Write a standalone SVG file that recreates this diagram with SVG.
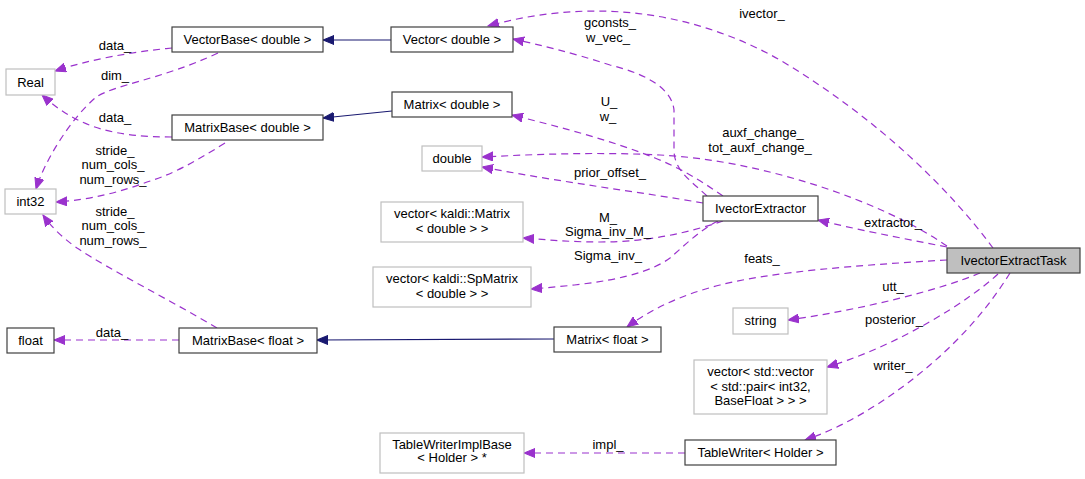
<svg xmlns="http://www.w3.org/2000/svg" width="1085" height="479" viewBox="0 0 1085 479">
<style>
text{font-family:"Liberation Sans",Arial,sans-serif;font-size:13px;fill:#000;text-anchor:middle}
.doc{fill:#fff;stroke:#404040;stroke-width:1.2}
.und{fill:#fff;stroke:#bfbfbf;stroke-width:1.2}
.cur{fill:#bfbfbf;stroke:#404040;stroke-width:1.2}
.inh{fill:none;stroke:#191970;stroke-width:1.2}
.use{fill:none;stroke:#9a32cd;stroke-width:1.2;stroke-dasharray:7,5}
</style>
<defs>
<marker id="ab" markerUnits="userSpaceOnUse" markerWidth="12" markerHeight="10" refX="11" refY="5" orient="auto"><path d="M0,0.5 L11,5 L0,9.5 Z" fill="#191970" stroke="#191970"/></marker>
<marker id="ap" markerUnits="userSpaceOnUse" markerWidth="12" markerHeight="10" refX="11" refY="5" orient="auto"><path d="M0,0.5 L11,5 L0,9.5 Z" fill="#9a32cd" stroke="#9a32cd"/></marker>
</defs>
<g id="connectors">
<path class="inh" d="M391,40 L323,40" marker-end="url(#ab)"/>
<path class="inh" d="M392,111 L323,118" marker-end="url(#ab)"/>
<path class="inh" d="M554,339 L317,340" marker-end="url(#ab)"/>
<path class="use" d="M172,48 C130,52 88,60 55,71" marker-end="url(#ap)"/>
<text x="115" y="50">data_</text>
<path class="use" d="M218,53 C160,80 112,85 95,98 C70,120 45,160 36,189" marker-end="url(#ap)"/>
<text x="115" y="80">dim_</text>
<path class="use" d="M172,137 C115,137 78,128 42,95" marker-end="url(#ap)"/>
<text x="115" y="122">data_</text>
<path class="use" d="M225,143 C190,165 170,175 147,182 C120,192 90,200 56,202" marker-end="url(#ap)"/>
<text x="115" y="155">stride_</text><text x="113" y="169">num_cols_</text><text x="113" y="184">num_rows_</text>
<path class="use" d="M217,328 C170,300 110,270 77,248 C60,236 50,225 43,215" marker-end="url(#ap)"/>
<text x="115" y="216">stride_</text><text x="113" y="230">num_cols_</text><text x="113" y="245">num_rows_</text>
<path class="use" d="M179,340 L54,340" marker-end="url(#ap)"/>
<text x="112" y="337">data_</text>
<path class="use" d="M993,248 C950,190 880,120 780,60 C700,15 600,-5 488,26" marker-end="url(#ap)"/>
<text x="762" y="18">ivector_</text>
<path class="use" d="M707,196 C690,180 674,170 674,150 L674,110 C672,90 650,75 610,65 C570,52 540,45 513,39" marker-end="url(#ap)"/>
<text x="610" y="27">gconsts_</text><text x="608" y="42">w_vec_</text>
<path class="use" d="M723,196 C700,180 680,168 655,158 C610,140 560,127 512,115" marker-end="url(#ap)"/>
<text x="609" y="106">U_</text><text x="608" y="121">w_</text>
<path class="use" d="M947,246 C880,200 760,160 660,155 C600,152 540,154 482,157" marker-end="url(#ap)"/>
<text x="763" y="137">auxf_change_</text><text x="760" y="152">tot_auxf_change_</text>
<path class="use" d="M703,203 C640,192 560,182 482,167" marker-end="url(#ap)"/>
<text x="610" y="177">prior_offset_</text>
<path class="use" d="M723,221 C690,232 650,242 600,242 C570,242 550,240 523,238" marker-end="url(#ap)"/>
<text x="608" y="222">M_</text><text x="608" y="236">Sigma_inv_M_</text>
<path class="use" d="M718,221 C700,230 685,245 670,258 C640,280 580,285 531,289" marker-end="url(#ap)"/>
<text x="608" y="260">Sigma_inv_</text>
<path class="use" d="M947,247 C900,238 850,228 818,220" marker-end="url(#ap)"/>
<text x="893" y="227">extractor_</text>
<path class="use" d="M947,260 C860,265 770,272 720,285 C680,295 650,310 627,327" marker-end="url(#ap)"/>
<text x="762" y="263">feats_</text>
<path class="use" d="M980,273 C940,290 860,310 788,320" marker-end="url(#ap)"/>
<text x="893" y="291">utt_</text>
<path class="use" d="M998,274 C970,300 900,345 827,367" marker-end="url(#ap)"/>
<text x="894" y="324">posterior_</text>
<path class="use" d="M1010,273 C990,305 965,335 930,365 C895,395 850,425 805,440" marker-end="url(#ap)"/>
<text x="893" y="370">writer_</text>
<path class="use" d="M685,453 L524,453" marker-end="url(#ap)"/>
<text x="608" y="449">impl_</text>
</g>
<g id="IvectorExtractTask"><rect class="cur" x="947" y="248" width="133" height="25"/><text x="1013.5" y="265">IvectorExtractTask</text></g>
<g id="IvectorExtractor"><rect class="doc" x="703" y="196" width="115" height="25"/><text x="760.5" y="213">IvectorExtractor</text></g>
<g id="VectorBaseDouble"><rect class="doc" x="172" y="27" width="151" height="25"/><text x="247.5" y="44">VectorBase&lt; double &gt;</text></g>
<g id="VectorDouble"><rect class="doc" x="391" y="27" width="122" height="25"/><text x="452" y="44">Vector&lt; double &gt;</text></g>
<g id="Real"><rect class="und" x="6" y="69" width="49" height="26"/><text x="30.5" y="86.5">Real</text></g>
<g id="MatrixBaseDouble"><rect class="doc" x="172" y="115" width="151" height="25"/><text x="247.5" y="132">MatrixBase&lt; double &gt;</text></g>
<g id="MatrixDouble"><rect class="doc" x="392" y="92" width="120" height="25"/><text x="452" y="109">Matrix&lt; double &gt;</text></g>
<g id="double"><rect class="und" x="422" y="146" width="60" height="25"/><text x="452" y="163">double</text></g>
<g id="int32"><rect class="und" x="5" y="189" width="51" height="25"/><text x="30.5" y="206">int32</text></g>
<g id="vectorKaldiMatrix"><rect class="und" x="381" y="202" width="142" height="40"/><text x="452" y="218">vector&lt; kaldi::Matrix</text><text x="452" y="233">&lt; double &gt; &gt;</text></g>
<g id="vectorKaldiSpMatrix"><rect class="und" x="373" y="267" width="158" height="40"/><text x="452" y="283">vector&lt; kaldi::SpMatrix</text><text x="452" y="298">&lt; double &gt; &gt;</text></g>
<g id="string"><rect class="und" x="733" y="308" width="55" height="26"/><text x="760.5" y="325">string</text></g>
<g id="float"><rect class="doc" x="7" y="328" width="47" height="25"/><text x="30.5" y="345">float</text></g>
<g id="MatrixBaseFloat"><rect class="doc" x="179" y="328" width="138" height="25"/><text x="248" y="345">MatrixBase&lt; float &gt;</text></g>
<g id="MatrixFloat"><rect class="doc" x="554" y="327" width="107" height="25"/><text x="607.5" y="344">Matrix&lt; float &gt;</text></g>
<g id="vectorPosterior"><rect class="und" x="694" y="360" width="133" height="54"/><text x="760.5" y="376">vector&lt; std::vector</text><text x="760.5" y="391">&lt; std::pair&lt; int32,</text><text x="760.5" y="405">BaseFloat &gt; &gt; &gt;</text></g>
<g id="TableWriterHolder"><rect class="doc" x="685" y="440" width="151" height="25"/><text x="760.5" y="457">TableWriter&lt; Holder &gt;</text></g>
<g id="TableWriterImplBase"><rect class="und" x="380" y="433" width="144" height="40"/><text x="452" y="449">TableWriterImplBase</text><text x="452" y="462">&lt; Holder &gt; *</text></g>
</svg>
